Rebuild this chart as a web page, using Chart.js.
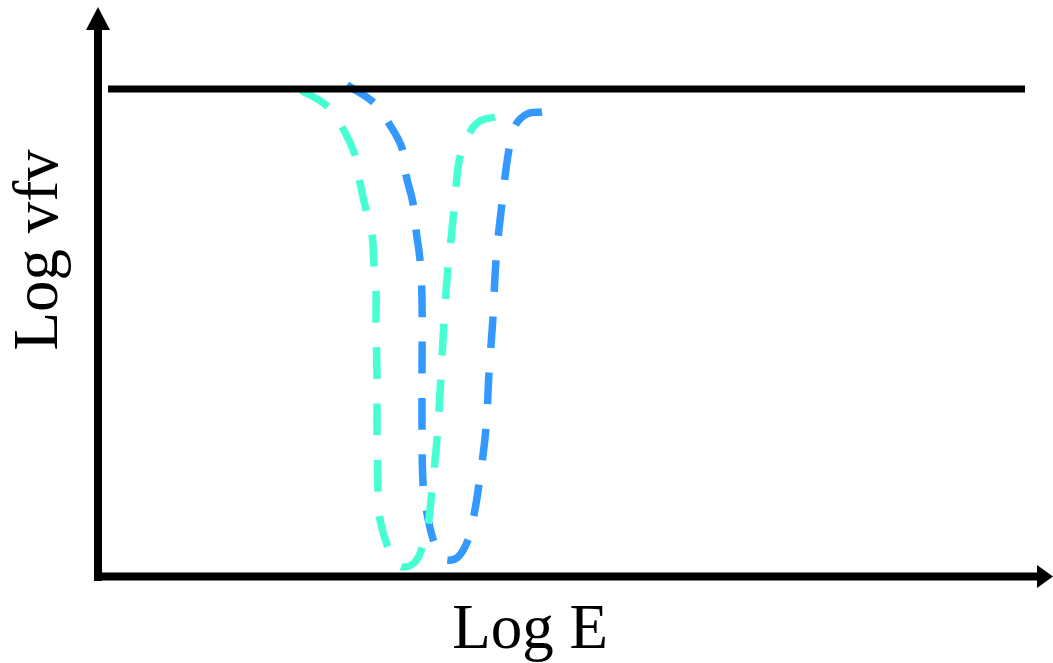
<!DOCTYPE html>
<html>
<head>
<meta charset="utf-8">
<script src="https://cdn.jsdelivr.net/npm/chart.js@4/dist/chart.umd.min.js"></script>
<style>
  html, body { margin: 0; padding: 0; background: #ffffff; }
  #wrap { width: 1053px; height: 663px; position: relative; }
</style>
</head>
<body>
<div id="wrap"><canvas id="c"></canvas></div>
<script>
// Axis titles
const xTitle = 'Log E';
const yTitle = 'Log vfv';

// Flat (black) spectrum: Log E, Log vfv
const flatX = [0.9, 92.6];
const flatY = [48.8, 48.8];

// Absorption trough 1 (aquamarine)
const aquaX = [20.2, 22.8, 24.3, 25.6, 26.0, 26.7, 27.3, 27.5, 27.7, 27.7, 27.8, 27.8, 27.9, 28.0, 28.8, 29.6, 30.3,
               31.6, 32.4, 32.9, 33.3, 33.7, 34.0, 34.5, 34.9, 35.3, 35.7, 36.1, 37.1, 38.1, 39.6];
const aquaY = [48.7, 47.1, 45.0, 42.2, 39.9, 36.7, 34.2, 31.2, 28.7, 25.5, 19.9, 14.4, 8.7, 6.3, 3.2, 1.7, 1.0,
               1.5, 3.2, 5.2, 8.7, 12.7, 16.7, 25.5, 31.0, 34.7, 39.0, 42.0, 44.5, 45.6, 46.0];

// Absorption trough 2 (blue)
const blueX = [24.8, 27.4, 28.9, 30.3, 30.7, 31.4, 31.7, 32.1, 32.3, 32.3, 32.3, 32.4, 32.7, 33.4, 34.1, 34.8,
               35.9, 36.9, 37.5, 38.0, 38.7, 39.0, 39.4, 39.7, 40.3, 41.0, 41.6, 42.8, 44.3];
const blueY = [49.2, 47.5, 45.5, 42.9, 40.2, 37.4, 34.7, 31.7, 27.7, 20.5, 14.9, 9.4, 6.9, 3.8, 2.2, 1.7,
               2.0, 3.7, 6.2, 9.3, 14.9, 20.4, 26.0, 31.6, 37.4, 42.8, 45.1, 46.3, 46.5];

// dashed style: number of dashes along each dipped curve, dash:gap ratio
const dashCount = 18;
const dashRatio = [31, 24];
const TENSION = 0.4;

const toPts = (xs, ys) => xs.map((x, i) => ({ x: x, y: ys[i] }));

// Dash patterns fitted to each curve's drawn length (so both ends carry a dash)
const fittedDash = {};

function curveLength(pts, t) {
  const n = pts.length;
  const cps = [];
  let prev = pts[0];
  for (let i = 0; i < n; i++) {
    const cur = pts[i];
    const nxt = pts[Math.min(i + 1, n - 1)];
    const d01 = Math.hypot(cur.x - prev.x, cur.y - prev.y);
    const d12 = Math.hypot(nxt.x - cur.x, nxt.y - cur.y);
    let s01 = d01 / (d01 + d12), s12 = d12 / (d01 + d12);
    if (isNaN(s01)) s01 = 0;
    if (isNaN(s12)) s12 = 0;
    const fa = t * s01, fb = t * s12;
    cps.push({
      px: cur.x - fa * (nxt.x - prev.x), py: cur.y - fa * (nxt.y - prev.y),
      nx: cur.x + fb * (nxt.x - prev.x), ny: cur.y + fb * (nxt.y - prev.y)
    });
    prev = cur;
  }
  let L = 0;
  for (let i = 0; i < n - 1; i++) {
    const p0 = pts[i], p3 = pts[i + 1];
    const c1 = { x: cps[i].nx, y: cps[i].ny }, c2 = { x: cps[i + 1].px, y: cps[i + 1].py };
    let lx = p0.x, ly = p0.y;
    for (let k = 1; k <= 40; k++) {
      const u = k / 40, v = 1 - u;
      const x = v*v*v*p0.x + 3*v*v*u*c1.x + 3*v*u*u*c2.x + u*u*u*p3.x;
      const y = v*v*v*p0.y + 3*v*v*u*c1.y + 3*v*u*u*c2.y + u*u*u*p3.y;
      L += Math.hypot(x - lx, y - ly);
      lx = x; ly = y;
    }
  }
  return L;
}

const dashFit = {
  id: 'dashFit',
  afterLayout(chart) {
    const xs = chart.scales.x, ys = chart.scales.y;
    chart.data.datasets.forEach((ds, i) => {
      if (!ds.fitDash) return;
      const px = ds.data.map(p => ({ x: xs.getPixelForValue(p.x), y: ys.getPixelForValue(p.y) }));
      const L = curveLength(px, TENSION);
      const u = L / (dashCount * dashRatio[0] + (dashCount - 1) * dashRatio[1]);
      fittedDash[i] = [dashRatio[0] * u, dashRatio[1] * u];
    });
  }
};

const decor = {
  id: 'decor',
  afterDatasetsDraw(chart) {
    const ctx = chart.ctx;
    const a = chart.chartArea;
    ctx.save();
    ctx.fillStyle = '#000';
    ctx.strokeStyle = '#000';
    ctx.lineWidth = 8;
    ctx.lineCap = 'butt';
    // y axis
    const ax = a.left - 1;
    ctx.beginPath();
    ctx.moveTo(ax, a.bottom + 4);
    ctx.lineTo(ax, a.top + 22);
    ctx.stroke();
    ctx.beginPath();
    ctx.moveTo(ax - 12, a.top + 23);
    ctx.lineTo(ax + 12, a.top + 23);
    ctx.lineTo(ax, a.top);
    ctx.closePath();
    ctx.fill();
    // x axis
    const ay = a.bottom - 0.5;
    ctx.beginPath();
    ctx.moveTo(a.left - 5, ay);
    ctx.lineTo(a.right - 11, ay);
    ctx.stroke();
    ctx.beginPath();
    ctx.moveTo(a.right - 12, ay - 11.5);
    ctx.lineTo(a.right - 12, ay + 11.5);
    ctx.lineTo(a.right + 4, ay);
    ctx.closePath();
    ctx.fill();
    // titles
    ctx.font = '63px "Liberation Serif", "Times New Roman", serif';
    ctx.textAlign = 'center';
    ctx.textBaseline = 'alphabetic';
    ctx.fillText(xTitle, 530, 648);
    ctx.translate(57, 250);
    ctx.rotate(-Math.PI / 2);
    ctx.fillText(yTitle, 0, 0);
    ctx.restore();
  }
};

const dashOpt = (ctx) => fittedDash[ctx.datasetIndex] || dashRatio;

new Chart(document.getElementById('c'), {
  type: 'scatter',
  data: {
    datasets: [
      { data: toPts(flatX, flatY), showLine: true, borderColor: '#000000', borderWidth: 7, pointRadius: 0, tension: 0 },
      { data: toPts(aquaX, aquaY), fitDash: true, showLine: true, borderColor: '#46FFD2', borderWidth: 7.5, pointRadius: 0,
        tension: TENSION, borderDash: dashOpt, borderCapStyle: 'butt' },
      { data: toPts(blueX, blueY), fitDash: true, showLine: true, borderColor: '#3399FF', borderWidth: 7.5, pointRadius: 0,
        tension: TENSION, borderDash: dashOpt, borderCapStyle: 'butt' }
    ]
  },
  options: {
    responsive: true,
    maintainAspectRatio: false,
    animation: false,
    clip: false,
    layout: { padding: { left: 99, right: 4, top: 7, bottom: 86 } },
    plugins: { legend: { display: false }, tooltip: { enabled: false } },
    scales: {
      x: { type: 'linear', min: 0, max: 95, display: false },
      y: { type: 'linear', min: 0, max: 57, display: false }
    }
  },
  plugins: [dashFit, decor]
});
</script>
</body>
</html>
